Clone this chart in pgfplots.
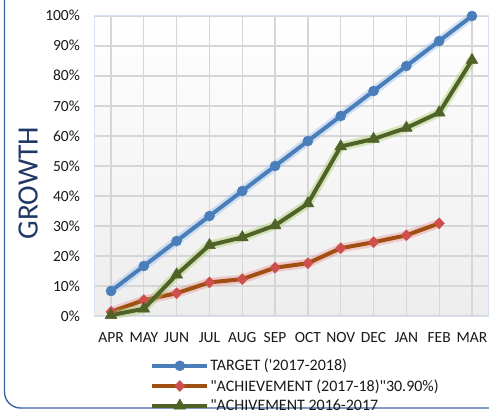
\documentclass[border=0pt]{standalone}
\usepackage{pgfplots}
\pgfplotsset{compat=1.18}
\usepackage{pgfplotstable}
\usepackage{fontspec}
\setmainfont{Carlito}[Ligatures=TeXOff]
\definecolor{tblue}{RGB}{74,126,187}
\definecolor{tglow}{RGB}{150,190,235}
\definecolor{aorange}{RGB}{160,78,18}
\definecolor{ared}{RGB}{205,80,77}
\definecolor{aglow}{RGB}{235,130,130}
\definecolor{ggreen}{RGB}{79,98,40}
\definecolor{gglow}{RGB}{165,200,95}
\definecolor{frameblue}{RGB}{60,100,165}
\definecolor{navy}{RGB}{31,56,100}
\definecolor{plotedge}{RGB}{215,226,240}

\pgfplotstableread{
x y
0 8.33
1 16.67
2 25.0
3 33.33
4 41.67
5 50.0
6 58.33
7 66.67
8 75.0
9 83.33
10 91.67
11 100.0
}\target

\pgfplotstableread{
x y
0 1.4
1 5.3
2 7.6
3 11.2
4 12.3
5 16.1
6 17.6
7 22.6
8 24.6
9 26.9
10 30.9
}\achA

\pgfplotstableread{
x y
0 0.3
1 2.4
2 13.8
3 23.6
4 26.2
5 30.2
6 37.5
7 56.5
8 59.0
9 62.7
10 67.8
11 85.3
}\achB

\begin{document}
\begin{tikzpicture}[x=1bp,y=1bp]
\clip (0,0) rectangle (489,410);
\fill[white] (0,0) rectangle (489,410);
\draw[frameblue, line width=1.4bp, rounded corners=16bp] (4.5,2) rectangle (540,460);
\begin{axis}[
  at={(94.6bp,94bp)}, anchor=south west,
  scale only axis, width=393.8bp, height=300bp,
  xmin=-0.5, xmax=11.5, ymin=0, ymax=100,
  xtick={0,...,11},
  xticklabels={APR,MAY,JUN,JUL,AUG,SEP,OCT,NOV,DEC,JAN,FEB,MAR},
  ytick={0,10,...,100},
  yticklabels={0\%,10\%,20\%,30\%,40\%,50\%,60\%,70\%,80\%,90\%,100\%},
  major tick length=0pt,
  grid=major,
  major grid style={draw=black!16, line width=1.3bp},
  axis line style={draw=plotedge, line width=1bp},
  axis background/.style={shade, top color=white, bottom color=black!7},
  tick label style={font=\fontsize{15.5bp}{18bp}\selectfont, text=black!90},
  xticklabel style={anchor=base, inner sep=0pt, yshift=-26bp},
  yticklabel style={anchor=base east, inner sep=0pt, xshift=-14.5bp, yshift=-5bp},
  ylabel={GROWTH},
  ylabel style={at={(rel axis cs:-0.169,0.443)}, anchor=center, font=\fontsize{29.5bp}{32bp}\selectfont, text=navy},
  legend style={at={(rel axis cs:0.141,-0.14)}, anchor=north west, draw=none, fill=none,
    font=\fontsize{16bp}{19bp}\selectfont, text=black!90, inner sep=0pt, row sep=5bp,
    nodes={inner sep=1bp}},
  legend cell align=left,
  legend image code/.code={\draw[mark repeat=2,mark phase=2,#1] plot coordinates {(0bp,0bp) (27.5bp,0bp) (55bp,0bp)};},
  clip=false,
]
\addplot[forget plot, draw=tglow, opacity=0.4, line width=9bp, line join=round] table[x=x,y=y]{\target};
\addplot[draw=tblue, line width=4bp, line join=round, mark=*, mark size=5bp, mark options={fill=tblue, draw=tblue, line width=0.5bp}] table[x=x,y=y]{\target};
\addlegendentry{TARGET ('2017-2018)}
\addplot[forget plot, draw=aglow, opacity=0.35, line width=9bp, line join=round] table[x=x,y=y]{\achA};
\addplot[draw=aorange, line width=4bp, line join=round, mark=diamond*, mark size=5.5bp, mark options={fill=ared, draw=ared, line width=0.5bp, xscale=1.25}] table[x=x,y=y]{\achA};
\addlegendentry{"ACHIEVEMENT (2017-18)"30.90\%)}
\addplot[forget plot, draw=gglow, opacity=0.4, line width=9bp, line join=round] table[x=x,y=y]{\achB};
\addplot[draw=ggreen, line width=4bp, line join=round, mark=triangle*, mark size=6.8bp, mark options={fill=ggreen, draw=ggreen, line width=0.5bp}] table[x=x,y=y]{\achB};
\addlegendentry{"ACHIVEMENT 2016-2017}
\end{axis}
\end{tikzpicture}
\end{document}
